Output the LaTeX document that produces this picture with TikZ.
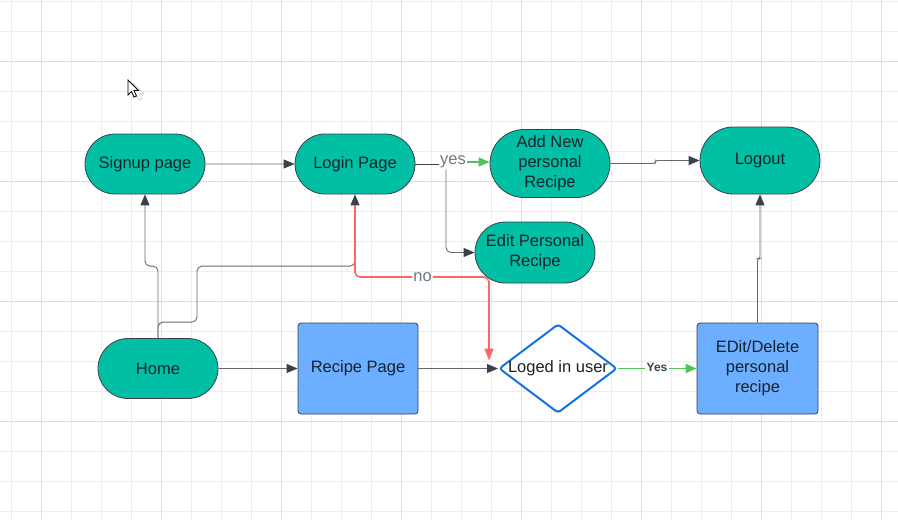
\documentclass[tikz,border=0pt]{standalone}
\usepackage{fontspec}
\setmainfont{Liberation Sans}
\usetikzlibrary{shapes.geometric, shapes.misc, arrows.meta}
\definecolor{pageTeal}{HTML}{00BFA5}
\definecolor{boxBlue}{HTML}{6CAEFF}
\definecolor{decBlue}{HTML}{1471E6}
\definecolor{lineDark}{HTML}{3A414A}
\definecolor{lineGray}{HTML}{656A73}
\definecolor{textDark}{HTML}{16222C}
\definecolor{labelGray}{HTML}{6F7782}
\definecolor{noRed}{HTML}{FF6666}
\definecolor{yesGreen}{HTML}{4EC45B}
\definecolor{gridThin}{HTML}{EDEDED}
\definecolor{gridThick}{HTML}{DDDDDD}
\begin{document}
\begin{tikzpicture}[x=1pt, y=-1pt]
  \tikzstyle{every node}=[font=\fontsize{16.5}{20}\selectfont, text=textDark, align=center]
  \tikzstyle{page}=[rounded rectangle, draw=lineDark, line width=0.8pt, fill=pageTeal, minimum width=124pt, minimum height=60pt, inner sep=2pt]
  \tikzstyle{box}=[rectangle, rounded corners=3pt, draw=lineDark, line width=0.8pt, fill=boxBlue, minimum width=120pt, minimum height=91pt]
  \tikzstyle{decision}=[diamond, aspect=1.33, rounded corners=3pt, draw=decBlue, line width=2pt, fill=white, minimum width=118pt, minimum height=89pt, inner sep=0pt]
  \tikzstyle{link}=[-{Triangle[length=11pt, width=9pt, color=lineDark]}, draw=lineGray, line width=0.9pt]
  \tikzstyle{tag}=[inner sep=1pt, text=labelGray]
  \useasboundingbox (0,0) rectangle (898,520);
  \fill[white] (0,0) rectangle (898,520);
  % grid
  \foreach \gx in {11,41,...,881} \draw[gridThin, line width=0.8pt] (\gx,0) -- (\gx,520);
  \foreach \gy in {1,31,...,511} \draw[gridThin, line width=0.8pt] (0,\gy) -- (898,\gy);
  \foreach \gx in {41,161,...,881} \draw[gridThick, line width=1pt] (\gx,0) -- (\gx,520);
  \foreach \gy in {61,181,...,421} \draw[gridThick, line width=1pt] (0,\gy) -- (898,\gy);
  % cursor
  \draw[gray!40, fill=white, line width=0.5pt] (133,83) -- (133,98) -- (136.5,94.5) -- (139,100) -- (141.5,99) -- (139,93.5) -- (143.5,93.5) -- cycle;
  \draw[black, fill=white, line width=0.8pt] (128,80) -- (128,95) -- (131.5,91.5) -- (134,97) -- (136.5,96) -- (134,90.5) -- (138.5,90.5) -- cycle;
  % nodes
  \node[page] (Signup) at (145,164) {Signup page};
  \node[page] (Login) at (355,164) {Login Page};
  \node[page, minimum height=68pt] (AddNew) at (550,163.5) {Add New\\personal\\Recipe};
  \node[page, minimum height=67pt] (Logout) at (760,160.5) {Logout};
  \node[page, minimum height=61pt] (EditPersonal) at (535,252.5) {Edit Personal\\Recipe};
  \node[page] (Home) at (158,368.5) {Home};
  \node[box] (RecipePage) at (358,368.5) {Recipe Page};
  \node[decision] (LogedIn) at (558,368.5) {\makebox[0pt]{Loged in user}};
  \node[box, minimum width=121pt] (EditDelete) at (757.5,368.5) {EDit/Delete\\personal\\recipe};
  \node[tag] (yes) at (453,162) {yes};
  \node[tag] (no) at (422.5,277) {no};
  \node[inner sep=1pt, text=lineDark, font=\bfseries\fontsize{12}{14}\selectfont] (Yes) at (657,367.5) {Yes};
  \coordinate (noEnd) at ([xshift=-9pt, yshift=8pt]LogedIn.west);
  % connectors
  \draw[link] (Signup) -- (Login);
  \draw[lineDark, line width=0.9pt] (Login.east) -- (yes.west |- Login.east);
  \draw[-{Triangle[length=11pt, width=9pt]}, yesGreen, line width=1.6pt] (yes.east) -- (AddNew.west |- yes.east);
  \draw[link, rounded corners=5pt] ([xshift=-7pt]yes.south) |- (EditPersonal.west);
  \draw[link, rounded corners=2pt] (AddNew.east) -- ++(45,0) |- (Logout.west);
  \draw[link, rounded corners=2pt] (EditDelete.north) -- ++(0,-64) -| (Logout.south);
  \draw[link, rounded corners=5pt] (Home.north) -- ++(0,-72) -| (Signup.south);
  \draw[link, rounded corners=5pt] (Home.north) -- ++(0,-16) -- ++(39,0) -- ++(0,-56) -| (Login.south);
  \draw[noRed, line width=1.6pt, rounded corners=5pt] ([yshift=-11pt]Login.south) |- (no.west);
  \draw[-{Triangle[length=12pt, width=9pt]}, noRed, line width=1.6pt, rounded corners=5pt] (no.east) -| (noEnd);
  \draw[link] (Home) -- (RecipePage);
  \draw[link] (RecipePage) -- (LogedIn);
  \draw[yesGreen, line width=1.6pt] (LogedIn.east) -- (Yes.west |- LogedIn.east);
  \draw[-{Triangle[length=11pt, width=9pt]}, yesGreen, line width=1.6pt] (Yes.east |- LogedIn.east) -- (EditDelete.west);
\end{tikzpicture}
\end{document}
